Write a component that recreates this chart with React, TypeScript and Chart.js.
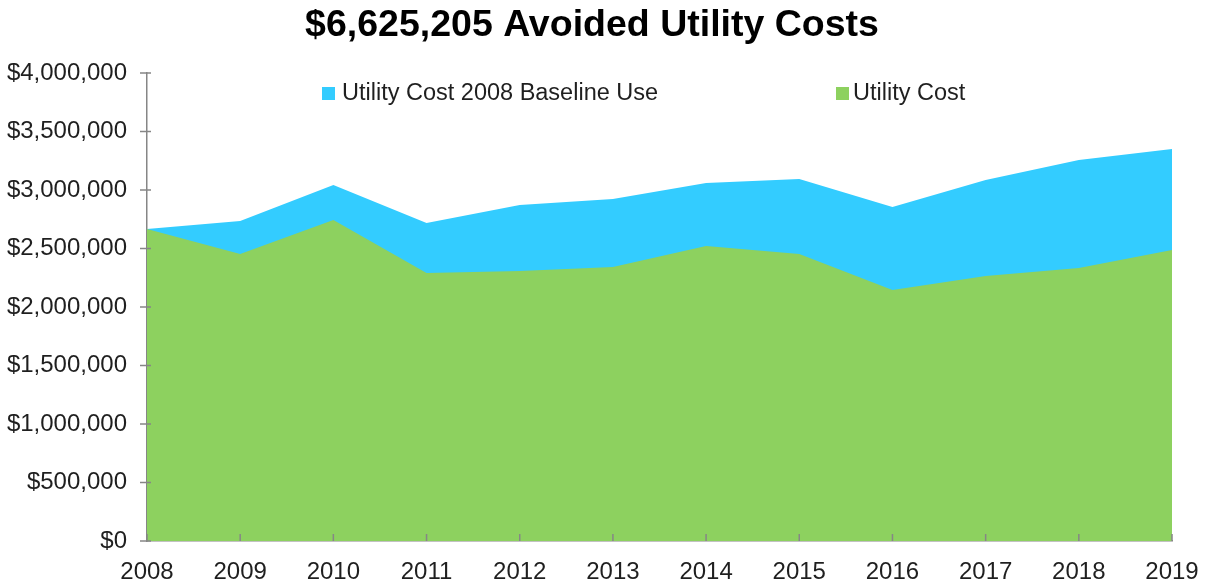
import React, { useEffect, useRef } from "react";
import { Chart, registerables } from "chart.js";

Chart.register(...registerables);

const years = ["2008", "2009", "2010", "2011", "2012", "2013", "2014", "2015", "2016", "2017", "2018", "2019"];
const baselineCost = [2666667, 2735000, 3043000, 2718000, 2872000, 2923000, 3060000, 3094000, 2855000, 3085000, 3256000, 3350000];
const utilityCost = [2666667, 2453000, 2744000, 2291000, 2308000, 2342000, 2521000, 2453000, 2145000, 2265000, 2333000, 2487000];
const titleText = "$6,625,205 Avoided Utility Costs";
const baselineLabel = "Utility Cost 2008 Baseline Use";
const utilityLabel = "Utility Cost";

const BLUE = "#33CCFF";
const GREEN = "#8DD15F";
const AXIS = "#868686";
const TEXT = "#1F1F1F";
const FONT = "'Liberation Sans', Arial, sans-serif";

const decorPlugin = {
  id: "decor",
  afterDraw(chart: any) {
    const { ctx, chartArea } = chart;
    const xs = chart.scales.x;
    const ys = chart.scales.y;
    ctx.save();
    // ticks
    ctx.strokeStyle = AXIS;
    ctx.lineWidth = 1.5;
    xs.ticks.forEach((_: any, i: number) => {
      const px = xs.getPixelForTick(i);
      ctx.beginPath();
      ctx.moveTo(px, chartArea.bottom);
      ctx.lineTo(px, chartArea.bottom - 7);
      ctx.stroke();
    });
    ys.ticks.forEach((_: any, i: number) => {
      const py = ys.getPixelForTick(i);
      ctx.beginPath();
      ctx.moveTo(chartArea.left - 7, py);
      ctx.lineTo(chartArea.left + 4, py);
      ctx.stroke();
    });
    // title
    ctx.fillStyle = "#000000";
    ctx.font = `bold 37.5px ${FONT}`;
    ctx.textAlign = "center";
    ctx.textBaseline = "middle";
    ctx.fillText(titleText, 592, 26);
    // legend
    ctx.font = `23.5px ${FONT}`;
    ctx.textAlign = "left";
    ctx.fillStyle = BLUE;
    ctx.fillRect(322, 87, 13, 13);
    ctx.fillStyle = TEXT;
    ctx.fillText(baselineLabel, 342, 94);
    ctx.fillStyle = GREEN;
    ctx.fillRect(836, 87, 13, 13);
    ctx.fillStyle = TEXT;
    ctx.fillText(utilityLabel, 853, 94);
    ctx.restore();
  },
};

export default function App() {
  const ref = useRef<HTMLCanvasElement>(null);
  useEffect(() => {
    document.body.style.margin = "0";
    const chart = new Chart(ref.current!, {
      type: "line",
      data: {
        labels: years,
        datasets: [
          {
            label: utilityLabel,
            data: utilityCost,
            backgroundColor: GREEN,
            borderWidth: 0,
            pointRadius: 0,
            fill: "origin",
            tension: 0,
          },
          {
            label: baselineLabel,
            data: baselineCost,
            backgroundColor: BLUE,
            borderWidth: 0,
            pointRadius: 0,
            fill: "origin",
            tension: 0,
          },
        ],
      },
      options: {
        animation: false,
        responsive: false,
        layout: { padding: { top: 73, right: 37, left: 0, bottom: 0 } },
        plugins: {
          legend: { display: false },
          title: { display: false },
          tooltip: { enabled: false },
        },
        scales: {
          x: {
            offset: false,
            grid: { display: false },
            border: { display: true, color: AXIS, width: 1.5 },
            ticks: {
              color: TEXT,
              font: { family: FONT, size: 24 },
              padding: 9,
              maxRotation: 0,
              autoSkip: false,
            },
            afterFit(scale: any) {
              scale.height = 45;
            },
          },
          y: {
            min: 0,
            max: 4000000,
            grid: { display: false },
            border: { display: true, color: AXIS, width: 1.5 },
            ticks: {
              stepSize: 500000,
              color: TEXT,
              font: { family: FONT, size: 24 },
              padding: 12,
              callback: (v: any) => "$" + Number(v).toLocaleString("en-US"),
            },
            afterFit(scale: any) {
              scale.width = 147;
            },
          },
        },
      },
      plugins: [decorPlugin],
    });
    return () => chart.destroy();
  }, []);
  return (
    <div style={{ width: 1209, height: 586 }}>
      <canvas ref={ref} width={1209} height={586} />
    </div>
  );
}
